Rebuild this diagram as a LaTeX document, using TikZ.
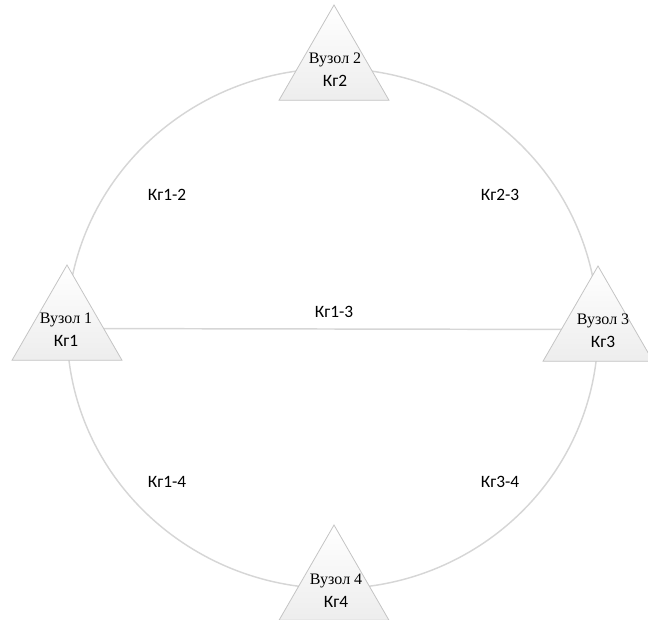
\documentclass[tikz,border=0pt]{standalone}
\usepackage{fontspec}
\setmainfont{Carlito}
\newfontfamily\nodeserif{Liberation Serif}
\usetikzlibrary{shapes.geometric,backgrounds}

\definecolor{linkgray}{HTML}{D6D6D6}
\definecolor{edgegray}{HTML}{C4C4C4}

\begin{document}
\begin{tikzpicture}[
  x=0.75pt, y=-0.75pt,
  tri/.style={
    regular polygon,
    regular polygon sides=3,
    minimum size=95.25pt,
    inner sep=0pt,
    draw=edgegray,
    line width=0.6pt,
    top color=white,
    bottom color=gray!14
  },
  vtext/.style={
    align=center,
    inner sep=0pt,
    font=\fontsize{13}{17}\selectfont
  },
  link/.style={draw=linkgray, line width=1.1pt},
  lbl/.style={font=\fontsize{13}{15}\selectfont}
]
\useasboundingbox (0,0) rectangle (648,619);

% --- Nodes (triangles) ---
\node[tri] (t1) at (67,328.5) {};
\node[tri] (t2) at (334,68.5) {};
\node[tri] (t3) at (598,329.5) {};
\node[tri] (t4) at (334,588.5) {};

% --- Node texts ---
\node[vtext] (v1) at (66,330) {{\nodeserif\fontsize{12}{17}\selectfont Вузол 1}\\Кг1};
\node[vtext] (v2) at (335,70) {{\nodeserif\fontsize{12}{17}\selectfont Вузол 2}\\Кг2};
\node[vtext] (v3) at (603,331) {{\nodeserif\fontsize{12}{17}\selectfont Вузол 3}\\Кг3};
\node[vtext] (v4) at (336,591) {{\nodeserif\fontsize{12}{17}\selectfont Вузол 4}\\Кг4};

% --- Links, behind the triangles ---
\begin{pgfonlayer}{background}
  \draw[link] (t1.center) to[out=90,in=180] (t2.center);
  \draw[link] (t2.center) to[out=0,in=90] (t3.center);
  \draw[link] (t3.center) to[out=-90,in=0] (t4.center);
  \draw[link] (t4.center) to[out=180,in=-90] (t1.center);
  \draw[link] (t1.center) -- (t3.center);
\end{pgfonlayer}

% --- Link labels ---
\node[lbl] (l12) at (167,195) {Кг1-2};
\node[lbl] (l23) at (500,195) {Кг2-3};
\node[lbl] (l13) at (334,312) {Кг1-3};
\node[lbl] (l14) at (167,482) {Кг1-4};
\node[lbl] (l34) at (500,482) {Кг3-4};

\end{tikzpicture}
\end{document}
